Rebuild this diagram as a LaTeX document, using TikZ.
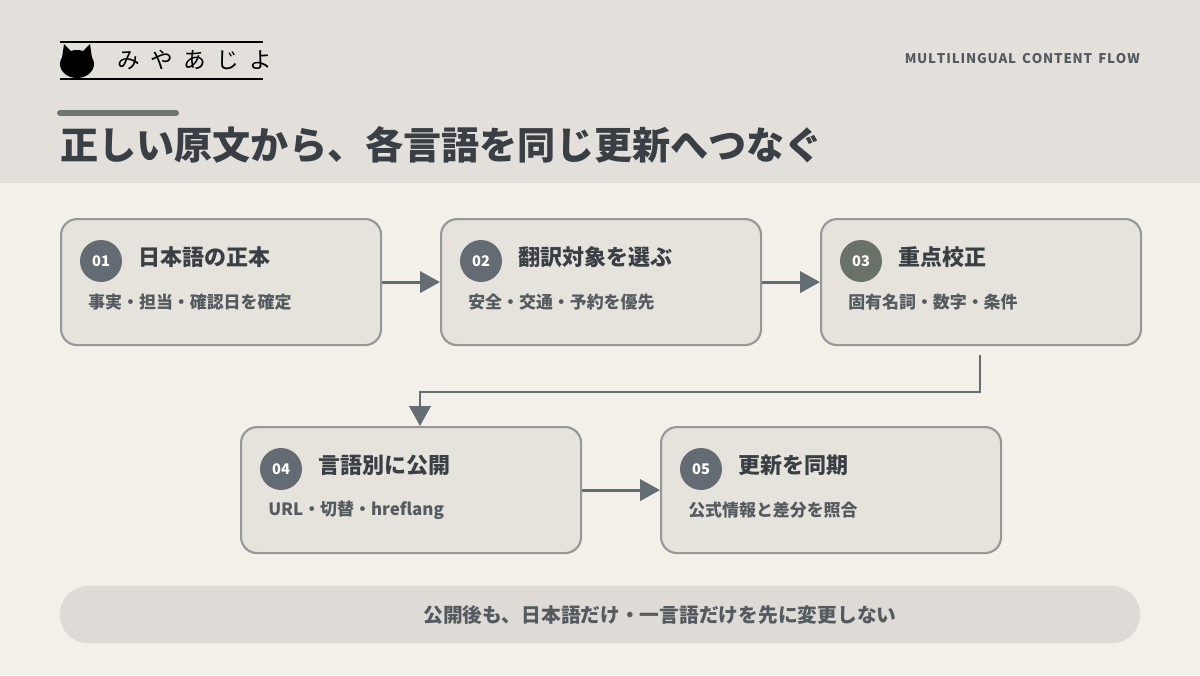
\documentclass[tikz,border=0pt]{standalone}
\usepackage{fontspec}
\setmainfont{Noto Sans CJK JP}
\usetikzlibrary{arrows.meta}
\definecolor{hdr}{HTML}{E3E0DB}
\definecolor{bg}{HTML}{F3F0EA}
\definecolor{boxf}{HTML}{E6E3DD}
\definecolor{boxd}{HTML}{979797}
\definecolor{circ}{HTML}{656B73}
\definecolor{circg}{HTML}{6A7168}
\definecolor{ttl}{HTML}{3A3F45}
\definecolor{sub}{HTML}{555A60}
\definecolor{arr}{HTML}{666C73}
\definecolor{pill}{HTML}{DEDBD6}
\definecolor{barc}{HTML}{6D7670}
\begin{document}
\begin{tikzpicture}[x=0.75pt,y=-0.75pt,
  box/.style={draw=boxd,line width=1.6pt,fill=boxf,rounded corners=12pt,minimum height=94.5pt,anchor=north west},
  num/.style={circle,fill=#1,minimum size=31.5pt,inner sep=0,text=white,font=\fontsize{11}{11}\selectfont\bfseries},
  ttlt/.style={anchor=west,text=ttl,font=\fontsize{16.5}{16.5}\selectfont\bfseries,inner sep=0},
  subt/.style={anchor=west,text=sub,font=\fontsize{12.7}{12.7}\selectfont\bfseries,inner sep=0},
  ar/.style={draw=arr,line width=2.2pt,-{Triangle[length=15pt,width=16pt]}}]
\useasboundingbox (0,0) rectangle (1200,675);
\fill[bg] (0,0) rectangle (1200,675);
\fill[hdr] (0,0) rectangle (1200,183);
% logo
\draw[line width=1.2pt] (60,42) -- (263,42) (60,79) -- (263,79);
\fill (77,64) ellipse (17 and 14);
\fill (62,58) -- (64,44) -- (72,52) -- cycle;
\fill (92,58) -- (90,44) -- (82,52) -- cycle;
\node[inner sep=0,font=\fontsize{17}{17}\selectfont] (logo) at (195,60) {み\hspace{0.45em}や\hspace{0.45em}あ\hspace{0.45em}じ\hspace{0.45em}よ};
\node[anchor=east,inner sep=0,text=sub,font=\fontsize{10}{10}\selectfont\bfseries] (tag) at (1140,59) {M\kern.6pt U\kern.6pt L\kern.6pt T\kern.6pt I\kern.6pt L\kern.6pt I\kern.6pt N\kern.6pt G\kern.6pt U\kern.6pt A\kern.6pt L\ \ C\kern.6pt O\kern.6pt N\kern.6pt T\kern.6pt E\kern.6pt N\kern.6pt T\ \ F\kern.6pt L\kern.6pt O\kern.6pt W};
\draw[barc,line width=4.5pt,line cap=round] (60,113) -- (176,113);
\node[anchor=west,inner sep=0,text=ttl,font=\fontsize{28.6}{28.6}\selectfont\bfseries] (title) at (60,145) {正しい原文から、各言語を同じ更新へつなぐ};
% boxes
\node[box,minimum width=240pt] (b1) at (60,218) {};
\node[box,minimum width=240pt] (b2) at (440,218) {};
\node[box,minimum width=240pt] (b3) at (820,218) {};
\node[box,minimum width=255pt] (b4) at (240,426) {};
\node[box,minimum width=255pt] (b5) at (660,426) {};
\node[num=circ] (n1) at (101,261) {01};
\node[num=circ] (n2) at (481,261) {02};
\node[num=circg] (n3) at (861,261) {03};
\node[num=circ] (n4) at (281,469) {04};
\node[num=circ] (n5) at (701,469) {05};
\node[ttlt] (t1) at (138,257) {日本語の正本};
\node[ttlt] (t2) at (518,257) {翻訳対象を選ぶ};
\node[ttlt] (t3) at (898,257) {重点校正};
\node[ttlt] (t4) at (318,465) {言語別に公開};
\node[ttlt] (t5) at (738,465) {更新を同期};
\node[subt] (s1) at (88,302) {事実・担当・確認日を確定};
\node[subt] (s2) at (468,302) {安全・交通・予約を優先};
\node[subt] (s3) at (848,302) {固有名詞・数字・条件};
\node[subt] (s4) at (268,510) {URL・切替・hreflang};
\node[subt] (s5) at (688,510) {公式情報と差分を照合};
\draw[ar] (b1.east) -- (b2.west);
\draw[ar] (b2.east) -- (b3.west);
\draw[ar] (b4.east) -- (b5.west);
\coordinate (e1) at (980,392);
\coordinate (e2) at (420,392);
\draw[ar] (980,355) -- (e1) -- (e2) -- (b4.north -| e2);
% pill
\node[fill=pill,rounded corners=21pt,minimum width=810pt,minimum height=43pt] (pl) at (600,614.5) {};
\node[inner sep=0,text=sub,font=\fontsize{14.8}{14.8}\selectfont\bfseries] (plt) at (660,614.5) {公開後も、日本語だけ・一言語だけを先に変更しない};
\end{tikzpicture}
\end{document}
